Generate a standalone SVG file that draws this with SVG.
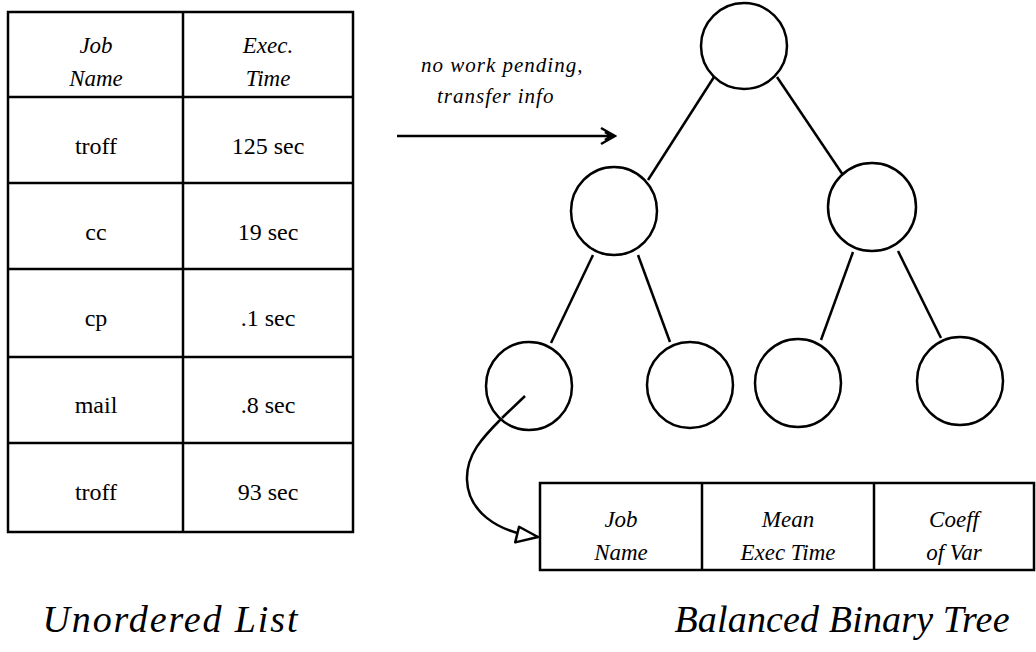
<svg xmlns="http://www.w3.org/2000/svg" width="1036" height="652" viewBox="0 0 1036 652">
<style>
.ln{stroke:#000;stroke-width:2.5;fill:none}
.nd{stroke:#000;stroke-width:2.5;fill:#fff}
.rm{font-family:"Liberation Serif","DejaVu Serif",serif;font-size:24px;fill:#000;text-anchor:middle}
.it{font-family:"Liberation Serif","DejaVu Serif",serif;font-style:italic;font-size:23px;fill:#000;text-anchor:middle}
.lb{font-family:"Liberation Serif","DejaVu Serif",serif;font-style:italic;font-size:21px;fill:#000;letter-spacing:1px}
.tt{font-family:"Liberation Serif","DejaVu Serif",serif;font-style:italic;font-size:38px;fill:#000;text-anchor:middle}
</style>
<defs>
<marker id="ah" viewBox="0 0 20 20" refX="18" refY="10" markerWidth="20" markerHeight="20" markerUnits="userSpaceOnUse" orient="auto">
<path d="M4,2 L18,10 L4,18 M8,6 L14,10 L8,14" fill="none" stroke="#000" stroke-width="2.5"/>
</marker>
<marker id="ah2" viewBox="0 0 28 20" refX="26" refY="10" markerWidth="28" markerHeight="20" markerUnits="userSpaceOnUse" orient="auto">
<path d="M26,10 L6,2 L4,18 Z" fill="#fff" stroke="#000" stroke-width="2.5" stroke-linejoin="round"/>
</marker>
</defs>

<g id="unordered-list">
<rect class="ln" x="8" y="12" width="345" height="520"/>
<path class="ln" d="M183,12 V532 M8,97 H353 M8,183 H353 M8,269 H353 M8,357 H353 M8,443 H353"/>
<text class="it" x="96" y="53">Job</text>
<text class="it" x="96" y="86">Name</text>
<text class="it" x="268" y="53">Exec.</text>
<text class="it" x="268" y="86">Time</text>
<text class="rm" x="96" y="154">troff</text>
<text class="rm" x="268" y="154">125 sec</text>
<text class="rm" x="96" y="240">cc</text>
<text class="rm" x="268" y="240">19 sec</text>
<text class="rm" x="96" y="326">cp</text>
<text class="rm" x="268" y="326">.1 sec</text>
<text class="rm" x="96" y="413">mail</text>
<text class="rm" x="268" y="413">.8 sec</text>
<text class="rm" x="96" y="500">troff</text>
<text class="rm" x="268" y="500">93 sec</text>
</g>

<g id="connectors">
<path class="ln" d="M714,77 L648,180"/>
<path class="ln" d="M777,77 L843,175"/>
<path class="ln" d="M593,255 L551,343"/>
<path class="ln" d="M638,255 L670,342"/>
<path class="ln" d="M853,252 L821,340"/>
<path class="ln" d="M898,251 L941,338"/>
<path class="ln" d="M397,136 L615,136" marker-end="url(#ah)"/>
<path class="ln" d="M525,396 L502,418 C482,438 466,455 467,480 C468,510 495,532 538,537" marker-end="url(#ah2)"/>
</g>

<g id="transfer-label">
<text class="lb" x="421" y="72">no work pending,</text>
<text class="lb" x="437" y="103">transfer info</text>
</g>

<g id="node-root"><ellipse class="nd" cx="744" cy="46" rx="43" ry="43"/></g>
<g id="node-l"><ellipse class="nd" cx="614" cy="211" rx="43" ry="44"/></g>
<g id="node-r"><ellipse class="nd" cx="872" cy="207" rx="44" ry="44"/></g>
<g id="node-ll"><ellipse class="nd" cx="529" cy="386" rx="43" ry="44"/></g>
<g id="node-lr"><ellipse class="nd" cx="690" cy="385" rx="43" ry="43"/></g>
<g id="node-rl"><ellipse class="nd" cx="798" cy="383" rx="43" ry="44"/></g>
<g id="node-rr"><ellipse class="nd" cx="960" cy="381" rx="43" ry="44"/></g>
<path class="ln" d="M525,396 L502,418"/>

<g id="record">
<rect class="ln" x="540" y="483" width="494" height="87"/>
<path class="ln" d="M702,483 V570 M874,483 V570"/>
<text class="it" x="621" y="527">Job</text>
<text class="it" x="621" y="560">Name</text>
<text class="it" x="788" y="527">Mean</text>
<text class="it" x="788" y="560">Exec Time</text>
<text class="it" x="954" y="527">Coeff</text>
<text class="it" x="954" y="560">of Var</text>
</g>

<g id="titles">
<text class="tt" x="170" y="632" textLength="255" lengthAdjust="spacing">Unordered List</text>
<text class="tt" x="842" y="632" textLength="335" lengthAdjust="spacing">Balanced Binary Tree</text>
</g>
</svg>
